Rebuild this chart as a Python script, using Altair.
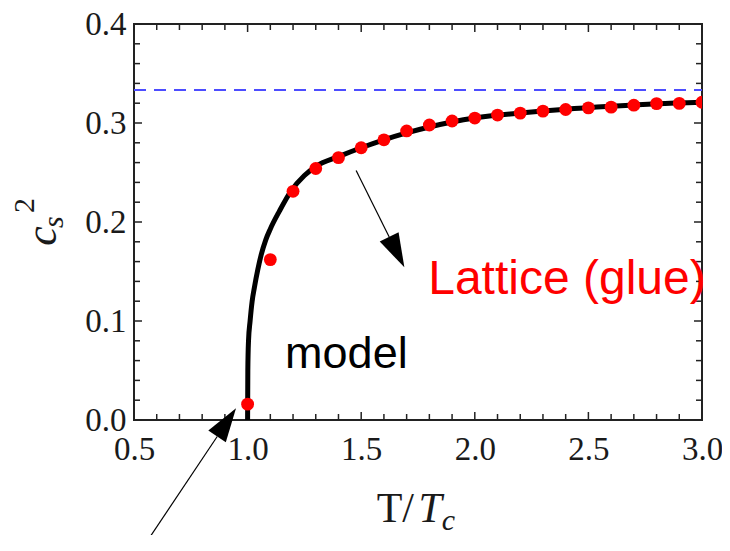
import altair as alt
import pandas as pd

# Lattice (glue) data points
x_lat = [1.0, 1.1, 1.2, 1.3, 1.4, 1.5, 1.6, 1.7, 1.8, 1.9, 2.0,
         2.1, 2.2, 2.3, 2.4, 2.5, 2.6, 2.7, 2.8, 2.9, 3.0]
y_lat = [0.016, 0.162, 0.231, 0.254, 0.265, 0.275, 0.283, 0.292, 0.298, 0.302, 0.305,
         0.308, 0.310, 0.312, 0.3136, 0.3153, 0.316, 0.318, 0.3196, 0.3198, 0.321]

# Model curve
x_model = [1.0, 1.001, 1.004, 1.011, 1.02, 1.03, 1.045, 1.06, 1.08, 1.1, 1.14, 1.19,
           1.25, 1.3, 1.4, 1.5, 1.6, 1.7, 1.8, 1.9, 2.0, 2.2, 2.4, 2.6, 2.8, 3.0]
y_model = [0.0, 0.05, 0.08, 0.10, 0.12, 0.134, 0.152, 0.167, 0.182, 0.193, 0.211, 0.231,
           0.247, 0.256, 0.266, 0.275, 0.283, 0.290, 0.296, 0.301, 0.305, 0.310, 0.314,
           0.317, 0.3195, 0.321]

# Conformal limit 1/3
x_limit = [0.5, 3.0]
y_limit = [0.33333, 0.33333]

# Axis ticks
x_major = [0.5, 1.0, 1.5, 2.0, 2.5, 3.0]
x_minor = [0.6, 0.7, 0.8, 0.9, 1.1, 1.2, 1.3, 1.4, 1.6, 1.7, 1.8, 1.9,
           2.1, 2.2, 2.3, 2.4, 2.6, 2.7, 2.8, 2.9]
y_major = [0.0, 0.1, 0.2, 0.3, 0.4]
y_minor = [0.02, 0.04, 0.06, 0.08, 0.12, 0.14, 0.16, 0.18, 0.22, 0.24, 0.26, 0.28,
           0.32, 0.34, 0.36, 0.38]

# Annotations (data coordinates)
lattice_label = ["Lattice (glue)"]
lattice_pos = [1.795, 0.1276]
model_label = ["model"]
model_pos = [1.165, 0.0523]
arrow_x1 = [1.4777, 0.5337]
arrow_y1 = [0.252, -0.1307]
arrow_x2 = [1.6233, 0.8663]
arrow_y2 = [0.1849, -0.0167]
head_x = [1.6565, 0.9073]
head_y = [0.1696, -0.0024]
head_angle = [153.4, 33.9]

W, H = 568, 396
SERIF = "Liberation Serif"
SANS = "Liberation Sans"

xscale = alt.Scale(domain=[0.5, 3.0], nice=False, zero=False)
yscale = alt.Scale(domain=[0.0, 0.4], nice=False, zero=False)
xaxis = alt.Axis(values=x_major, format=".1f", ticks=False, tickSize=0, domain=False,
                 grid=False, labelFont=SERIF, labelFontSize=33, labelColor="#1a1a1a",
                 labelPadding=13, labelFlush=False, labelOverlap=False, title=None)
yaxis = alt.Axis(values=y_major, format=".1f", ticks=False, tickSize=0, domain=False,
                 grid=False, labelFont=SERIF, labelFontSize=33, labelColor="#1a1a1a",
                 labelPadding=8, labelFlush=False, labelOverlap=False, title=None)
X = alt.X("x:Q", scale=xscale, axis=xaxis)
Y = alt.Y("y:Q", scale=yscale, axis=yaxis)

df_lat = pd.DataFrame({"x": x_lat, "y": y_lat})
df_model = pd.DataFrame({"x": x_model, "y": y_model})
df_limit = pd.DataFrame({"x": x_limit, "y": y_limit})

limit = alt.Chart(df_limit).mark_line(color="#4d4dff", strokeWidth=2.2, strokeDash=[12, 8]).encode(x=X, y=Y)
model = alt.Chart(df_model).mark_line(color="black", strokeWidth=5, interpolate="monotone").encode(x=X, y=Y)
dots = alt.Chart(df_lat).mark_circle(color="#ff0000", size=165, opacity=1, clip=True).encode(x=X, y=Y)

def xticks(vals, length):
    d = pd.DataFrame({"x": vals})
    b = alt.Chart(d).mark_rule(color="#222", strokeWidth=1.5).encode(
        x=X, y=alt.value(H), y2=alt.value(H - length))
    t = alt.Chart(d).mark_rule(color="#222", strokeWidth=1.5).encode(
        x=X, y=alt.value(0), y2=alt.value(length))
    return [b, t]

def yticks(vals, length):
    d = pd.DataFrame({"y": vals})
    l = alt.Chart(d).mark_rule(color="#222", strokeWidth=1.5).encode(
        y=Y, x=alt.value(0), x2=alt.value(length))
    r = alt.Chart(d).mark_rule(color="#222", strokeWidth=1.5).encode(
        y=Y, x=alt.value(W), x2=alt.value(W - length))
    return [l, r]

ticks = xticks(x_major, 8) + xticks(x_minor, 6) + yticks(y_major, 8) + yticks(y_minor, 6)

df_arrow = pd.DataFrame({"x": arrow_x1, "y": arrow_y1, "x2": arrow_x2, "y2": arrow_y2})
shafts = alt.Chart(df_arrow).mark_rule(color="black", strokeWidth=1.2, clip=False).encode(
    x=X, y=Y, x2="x2:Q", y2="y2:Q")
df_head = pd.DataFrame({"x": head_x, "y": head_y, "a": head_angle})
heads = alt.Chart(df_head).mark_point(
    shape="M0,-1L0.62,1L-0.62,1Z", filled=True, color="black", opacity=1,
    size=1156, clip=False).encode(x=X, y=Y, angle=alt.Angle("a:Q", scale=None))

def label(text, xy, color, font, size, style="normal", angle=0):
    d = pd.DataFrame({"x": [xy[0]], "y": [xy[1]], "t": text})
    return alt.Chart(d).mark_text(align="left", baseline="alphabetic", font=font,
                                  fontSize=size, fontStyle=style, color=color,
                                  angle=angle, clip=False).encode(x=X, y=Y, text="t:N")

lat_txt = label(lattice_label, lattice_pos, "#ff0000", SANS, 48)
mod_txt = label(model_label, model_pos, "black", SANS, 45)

# axis titles composed of pieces
xt1 = label(["T/"], [1.568, -0.103], "#1a1a1a", SERIF, 42)
xt2 = label(["T"], [1.752, -0.103], "#1a1a1a", SERIF, 42, "italic")
xt3 = label(["c"], [1.855, -0.111], "#1a1a1a", SERIF, 30, "italic")
yt1 = label(["c"], [0.1547, 0.1759], "#1a1a1a", SERIF, 44, "italic", 270)
yt2 = label(["s"], [0.1897, 0.194], "#1a1a1a", SERIF, 30, "italic", 270)
yt3 = label(["2"], [0.0586, 0.209], "#1a1a1a", SERIF, 30, "normal", 270)

chart = alt.layer(
    *ticks, limit, model, dots, shafts, heads, lat_txt, mod_txt,
    xt1, xt2, xt3, yt1, yt2, yt3
).properties(
    width=W, height=H,
    autosize=alt.AutoSizeParams(type="none"),
    padding={"left": 126, "top": 16, "right": 20, "bottom": 115},
).configure_view(stroke="#222", strokeWidth=2)

chart.save("out.html", embed_options={"renderer": "svg", "actions": False})
